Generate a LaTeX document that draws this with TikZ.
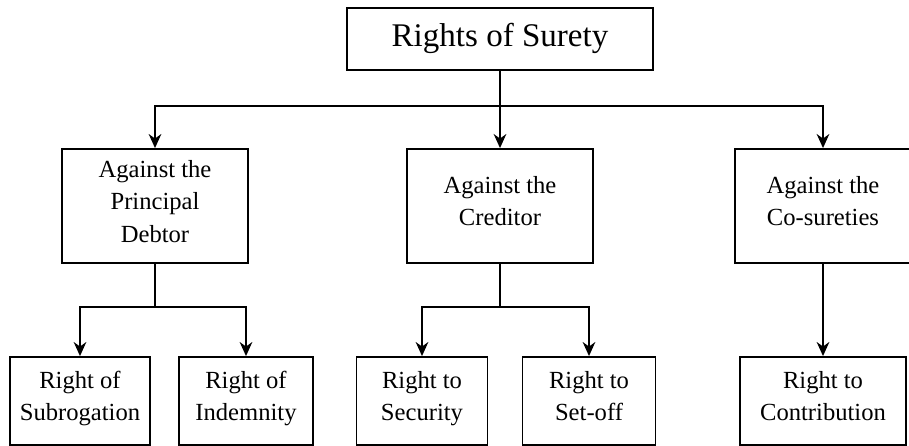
\documentclass[tikz,border=0pt]{standalone}
\usepackage{fontspec}
\setmainfont{Liberation Serif}
\usetikzlibrary{arrows.meta}

\begin{document}
\begin{tikzpicture}[x=0.025cm,y=-0.025cm,>={Stealth[length=10pt,width=9pt]},line width=1.3pt]
  \tikzstyle{rbox}=[draw,line width=1.3pt,inner sep=0pt,align=center,
    font=\fontsize{17.5}{23}\selectfont,
    execute at begin node=\strut,execute at end node=\strut]
  \tikzstyle{midbox}=[rbox,minimum height=2.85cm]
  \tikzstyle{leafbox}=[rbox,minimum height=2.2cm]
  \useasboundingbox[fill=white] (0,0) rectangle (909,446);
  % top
  \node[rbox,minimum width=7.65cm,minimum height=1.55cm,
    font=\fontsize{23.5}{27}\selectfont] (surety) at (500,39) {Rights of Surety};
  % second row
  \node[midbox,minimum width=4.65cm] (debtor) at (155,206) {Against the\\Principal\\Debtor};
  \node[midbox,minimum width=4.65cm] (creditor) at (500,206) {Against the\\Creditor};
  \node[midbox,minimum width=4.4cm] (cosure) at (823,206) {Against the\\Co-sureties};
  % third row
  \node[leafbox,minimum width=3.5cm] (subrog) at (80,401) {Right of\\Subrogation};
  \node[leafbox,minimum width=3.35cm] (indem) at (246,401) {Right of\\Indemnity};
  \node[leafbox,minimum width=3.275cm] (secur) at (422,401) {Right to\\Security};
  \node[leafbox,minimum width=3.325cm] (setoff) at (589,401) {Right to\\Set-off};
  \node[leafbox,minimum width=4.15cm] (contrib) at (823,401) {Right to\\Contribution};
  % joints
  \coordinate (topj) at (500,106);
  \coordinate (debtorj) at (155,307);
  \coordinate (creditorj) at (500,307);
  \draw (surety)--(topj);
  \draw[->] (topj)-|(debtor);
  \draw[->] (topj)--(creditor);
  \draw[->] (topj)-|(cosure);
  \draw (debtor)--(debtorj);
  \draw[->] (debtorj)-|(subrog);
  \draw[->] (debtorj)-|(indem);
  \draw (creditor)--(creditorj);
  \draw[->] (creditorj)-|(secur);
  \draw[->] (creditorj)-|(setoff);
  \draw[->] (cosure)--(contrib);
\end{tikzpicture}
\end{document}
